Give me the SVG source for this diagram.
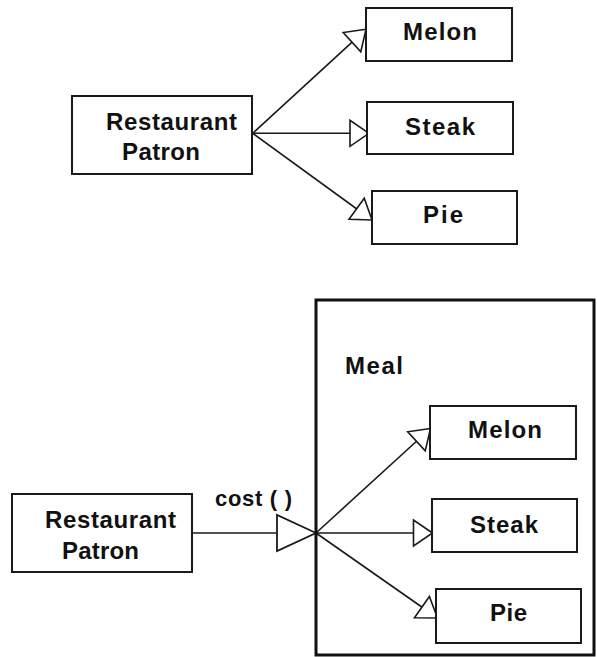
<svg xmlns="http://www.w3.org/2000/svg" width="597" height="657" viewBox="0 0 597 657">
<style>
.box{fill:#fff;stroke:#1a1a1a;stroke-width:2}
.lbl{font-family:"Liberation Sans",Arial,sans-serif;font-weight:bold;font-size:24px;fill:#111}
.con{stroke:#1a1a1a;stroke-width:1.6;fill:none}
.frame{fill:none;stroke:#111;stroke-width:3}
</style>
<defs>
<marker id="tri" markerUnits="userSpaceOnUse" markerWidth="24" markerHeight="30" viewBox="-21 -15 24 30" refX="0" refY="0" orient="auto">
<path d="M0,0 L-19,-13 L-19,13 Z" fill="#fff" stroke="#1a1a1a" stroke-width="1.6"/>
</marker>
<marker id="big" markerUnits="userSpaceOnUse" markerWidth="44" markerHeight="42" viewBox="-41 -21 44 42" refX="0" refY="0" orient="auto">
<path d="M0,0 L-39,-18 L-39,18 Z" fill="#fff" stroke="#1a1a1a" stroke-width="1.8"/>
</marker>
</defs>

<g id="connectors">
<line class="con" x1="252.7" y1="133.3" x2="366" y2="29.3" marker-end="url(#tri)"/>
<line class="con" x1="252.7" y1="133.3" x2="369" y2="133.3" marker-end="url(#tri)"/>
<line class="con" x1="252.7" y1="133.3" x2="372" y2="220" marker-end="url(#tri)"/>
<line class="con" x1="191.7" y1="533" x2="316" y2="533" marker-end="url(#big)"/>
<line class="con" x1="316" y1="533" x2="430.5" y2="428.5" marker-end="url(#tri)"/>
<line class="con" x1="316" y1="533" x2="432.5" y2="533" marker-end="url(#tri)"/>
<line class="con" x1="316" y1="533" x2="437.5" y2="618" marker-end="url(#tri)"/>
</g>

<g id="patron1">
<rect class="box" x="72" y="96" width="180" height="78"/>
<text class="lbl" x="106" y="130" textLength="131" lengthAdjust="spacing">Restaurant</text>
<text class="lbl" x="122" y="160" textLength="78" lengthAdjust="spacing">Patron</text>
</g>
<g id="melon1">
<rect class="box" x="366" y="8" width="146" height="53"/>
<text class="lbl" x="403" y="40" textLength="74" lengthAdjust="spacing">Melon</text>
</g>
<g id="steak1">
<rect class="box" x="367" y="102" width="146" height="52"/>
<text class="lbl" x="405" y="135" textLength="70" lengthAdjust="spacing">Steak</text>
</g>
<g id="pie1">
<rect class="box" x="372" y="191" width="145" height="53"/>
<text class="lbl" x="423" y="223" textLength="40" lengthAdjust="spacing">Pie</text>
</g>

<g id="meal">
<path class="frame" d="M316,300 V655 H594 V300 Z"/>
<text class="lbl" x="345" y="374" textLength="58" lengthAdjust="spacing">Meal</text>
</g>
<g id="patron2">
<rect class="box" x="12" y="494" width="180" height="78"/>
<text class="lbl" x="45" y="528" textLength="131" lengthAdjust="spacing">Restaurant</text>
<text class="lbl" x="62" y="559" textLength="77" lengthAdjust="spacing">Patron</text>
</g>
<text id="cost" class="lbl" x="215" y="506" style="font-size:22px" textLength="77" lengthAdjust="spacing">cost ( )</text>
<g id="melon2">
<rect class="box" x="430" y="406" width="146" height="53"/>
<text class="lbl" x="468" y="438" textLength="74" lengthAdjust="spacing">Melon</text>
</g>
<g id="steak2">
<rect class="box" x="432" y="499" width="145" height="53"/>
<text class="lbl" x="470" y="533" textLength="68" lengthAdjust="spacing">Steak</text>
</g>
<g id="pie2">
<rect class="box" x="436" y="589" width="145" height="54"/>
<text class="lbl" x="490" y="621" textLength="37" lengthAdjust="spacing">Pie</text>
</g>
</svg>
